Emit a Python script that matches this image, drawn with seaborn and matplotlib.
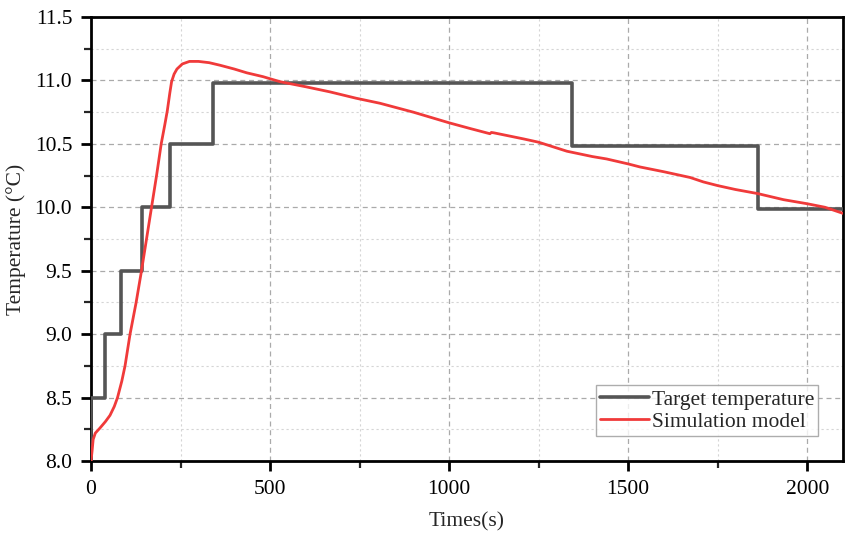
import numpy as np
import pandas as pd
import matplotlib
matplotlib.use('Agg')
import matplotlib.pyplot as plt
from matplotlib.ticker import MultipleLocator, FormatStrFormatter
import seaborn as sns

# target temperature (step profile)
target_t = [0, 1, 40, 84, 141, 221, 341, 1344, 1862, 2100]
target_T = [8.0, 8.5, 9.0, 9.5, 10.0, 10.5, 10.982, 10.485, 9.984, 9.984]

# simulation model output
sim_t = [0, 3, 6, 12, 25, 40, 53, 65, 74, 86, 95, 109, 126, 141, 155, 169,
         183, 196, 206, 213, 220, 225, 232, 240, 255, 275, 300, 330, 360, 400,
         435, 480, 528, 600, 667, 740, 807, 900, 1000, 1060, 1114, 1118, 1125,
         1208, 1250, 1329, 1400, 1440, 1500, 1533, 1600, 1673, 1710, 1750,
         1800, 1862, 1934, 2000, 2050, 2100]
sim_T = [8.0, 8.08, 8.17, 8.22, 8.26, 8.31, 8.36, 8.43, 8.5, 8.63, 8.75, 9.0,
         9.25, 9.5, 9.75, 10.0, 10.25, 10.5, 10.65, 10.76, 10.9, 10.99, 11.05,
         11.09, 11.13, 11.15, 11.15, 11.14, 11.12, 11.09, 11.06, 11.03, 10.99,
         10.95, 10.91, 10.86, 10.82, 10.75, 10.666, 10.62, 10.58, 10.59, 10.587,
         10.539, 10.513, 10.442, 10.40, 10.381, 10.342, 10.318, 10.28, 10.235,
         10.2, 10.171, 10.14, 10.108, 10.06, 10.028, 10.0, 9.952]

sns.set_style('ticks')
plt.rcParams['font.family'] = ['Liberation Serif', 'DejaVu Serif']

fig = plt.figure(figsize=(8.53, 5.47), dpi=100)
ax = fig.add_axes([0.1067, 0.1572, 0.8816, 0.8117])

target_df = pd.DataFrame({'t': target_t, 'T': target_T})
sim_df = pd.DataFrame({'t': sim_t, 'T': sim_T})

sns.lineplot(data=target_df, x='t', y='T', ax=ax, color='#555555', lw=2.6,
             drawstyle='steps-post', label='Target temperature', zorder=3)
sns.lineplot(data=sim_df, x='t', y='T', ax=ax, color='#f03a3a', lw=2.0,
             label='Simulation model', zorder=4)

ax.set_xlim(0, 2100)
ax.set_ylim(8.0, 11.5)
ax.xaxis.set_major_locator(MultipleLocator(500))
ax.xaxis.set_minor_locator(MultipleLocator(250))
ax.yaxis.set_major_locator(MultipleLocator(0.5))
ax.yaxis.set_minor_locator(MultipleLocator(0.25))
ax.yaxis.set_major_formatter(FormatStrFormatter('%.1f'))

ax.grid(which='major', color='#aaaaaa', ls=(0, (4, 3)), lw=0.9)
ax.grid(which='minor', color='#d5d5d5', ls=(0, (2, 2.5)), lw=0.8)
ax.set_axisbelow(True)

for s in ax.spines.values():
    s.set_linewidth(2.0)
    s.set_color('black')
ax.tick_params(which='major', direction='out', length=7.5, width=2,
               labelsize=15.5, pad=6, colors='black')
ax.tick_params(which='minor', direction='out', length=5, width=1.6)

ax.set_xlabel('Times(s)', fontsize=15.5, labelpad=10)
ax.set_ylabel('Temperature (°C)', fontsize=15.5, labelpad=6)

leg = ax.legend(loc='lower right', bbox_to_anchor=(0.967, 0.056),
                fontsize=15.5, frameon=True, fancybox=False,
                handlelength=2.3, handletextpad=0.1, borderpad=0.2,
                labelspacing=0.1, borderaxespad=0)
leg.get_frame().set_edgecolor('#999999')
leg.get_frame().set_linewidth(1.0)

fig.savefig('out.png', dpi=100)
